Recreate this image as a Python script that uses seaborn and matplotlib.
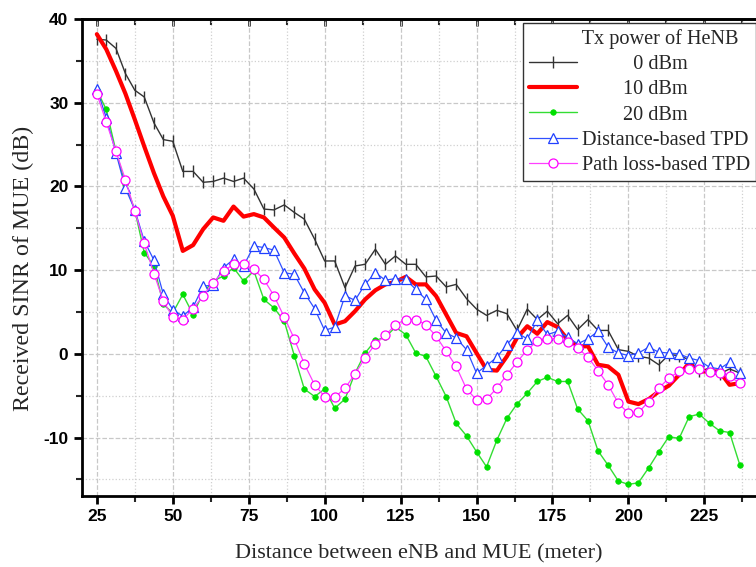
import matplotlib
matplotlib.use('Agg')
import matplotlib.pyplot as plt
from matplotlib.ticker import MultipleLocator
import seaborn as sns

distance = [25, 28.1, 31.3, 34.4, 37.5, 40.6, 43.8, 46.9, 50,
            53.3, 56.7, 60, 63.3, 66.7, 70, 73.3, 76.7, 80, 83.3, 86.7, 90, 93.3, 96.7, 100,
            103.3, 106.7, 110, 113.3, 116.7, 120, 123.3, 126.7, 130, 133.3, 136.7, 140, 143.3, 146.7, 150,
            153.3, 156.7, 160, 163.3, 166.7, 170, 173.3, 176.7, 180, 183.3, 186.7, 190, 193.3, 196.7, 200,
            203.3, 206.7, 210, 213.3, 216.7, 220, 223.3, 226.7, 230, 233.3, 236.7]

sinr_0dbm = [37.6, 37.5, 36.5, 33.5, 31.5, 30.7, 27.6, 25.6, 25.4,
             21.8, 21.8, 20.5, 20.6, 21.0, 20.6, 21.0, 19.7, 17.3, 17.2, 17.8, 16.9, 16.1, 13.7, 11.1,
             11.1, 7.9, 10.5, 10.7, 12.5, 10.7, 11.7, 10.7, 10.7, 9.2, 9.3, 8.0, 8.3, 6.6, 5.35,
             4.6, 5.2, 4.8, 2.8, 5.35, 4.1, 5.1, 3.6, 4.6, 2.9, 4.1, 2.8, 2.8, 0.5, 0.3,
             -0.3, -0.5, -1.3, -0.1, -0.2, -0.7, -2.1, -1.7, -2.4, -1.8, -2.3]

sinr_10dbm = [38.2, 36.4, 33.8, 31.1, 28.0, 24.8, 21.6, 18.8, 16.5,
              12.3, 13.0, 14.9, 16.3, 15.9, 17.6, 16.4, 16.7, 16.3, 15.1, 13.9, 12.0, 10.2, 7.7, 6.1,
              3.5, 3.9, 5.1, 6.5, 7.6, 8.3, 8.6, 9.2, 8.3, 8.3, 6.9, 4.7, 2.5, 2.1, 0.1,
              -1.9, -2.0, -0.3, 1.9, 3.3, 2.4, 3.8, 3.2, 1.7, 0.9, 0.9, -1.3, -1.5, -2.5, -5.7,
              -6.0, -5.4, -4.5, -3.8, -2.5, -1.1, -2.1, -2.1, -2.1, -3.7, -3.5]

sinr_20dbm = [31.5, 29.2, 24.2, 20.3, 17.2, 12.1, 10.5, 5.9, 4.9,
              7.1, 4.7, 7.3, 8.7, 9.3, 10.3, 8.7, 9.9, 6.5, 5.5, 3.9, -0.2, -4.2, -5.1, -4.2,
              -6.5, -5.4, -2.3, 0.1, 1.6, 2.0, 3.2, 2.3, 0.1, -0.3, -2.7, -5.1, -8.3, -9.8, -11.7,
              -13.5, -10.3, -7.7, -6.0, -4.7, -3.3, -2.8, -3.3, -3.3, -6.6, -8.0, -11.6, -13.3, -15.2, -15.6,
              -15.4, -13.6, -11.7, -9.9, -10.1, -7.5, -7.2, -8.3, -9.2, -9.4, -13.3]

sinr_dist_tpd = [31.7, 28.2, 24.0, 19.8, 17.2, 13.5, 11.2, 7.1, 5.3,
                 4.5, 5.6, 8.1, 8.2, 10.3, 11.3, 10.5, 12.9, 12.7, 12.4, 9.7, 9.5, 7.3, 5.4, 2.8,
                 3.2, 6.95, 6.4, 8.3, 9.7, 8.8, 9.0, 8.9, 7.7, 6.5, 4.0, 2.5, 1.9, 0.5, -2.3,
                 -1.4, -0.4, 1.1, 2.5, 1.8, 4.0, 2.3, 2.7, 2.0, 1.2, 1.8, 2.7, 0.8, 0.1, -0.2,
                 0.1, 0.8, 0.2, 0.1, 0.0, -0.5, -0.8, -1.6, -1.8, -1.0, -2.3]

sinr_pl_tpd = [31.1, 27.7, 24.2, 20.8, 17.1, 13.2, 9.6, 6.3, 4.4,
               4.1, 5.4, 6.95, 8.5, 9.9, 10.7, 10.7, 10.1, 8.9, 6.95, 4.4, 1.8, -1.2, -3.7, -5.1,
               -5.2, -4.1, -2.4, -0.5, 1.2, 2.2, 3.5, 4.1, 4.1, 3.5, 2.1, 0.3, -1.5, -4.2, -5.5,
               -5.4, -4.1, -2.5, -1.0, 0.5, 1.5, 1.8, 1.8, 1.4, 0.7, -0.4, -2.0, -3.7, -5.9, -7.1,
               -7.0, -5.7, -4.1, -2.9, -2.1, -1.8, -1.8, -2.2, -2.3, -2.7, -3.5]

# leading spaces centre the short labels under the title, as in the original
labels = ['          0 dBm', '        10 dBm', '        20 dBm',
          'Distance-based TPD', 'Path loss-based TPD']
legend_title = '        Tx power of HeNB'

sns.set_style('white')
plt.rcParams['axes.unicode_minus'] = False

fig = plt.figure(figsize=(7.56, 5.67), dpi=100)
ax = fig.add_axes([0.108, 0.125, 0.892, 0.8413])

sns.lineplot(x=distance, y=sinr_0dbm, ax=ax, color='#333333', linewidth=1,
             marker='|', markersize=8, markeredgecolor='#333333', markeredgewidth=1,
             label=labels[0])
sns.lineplot(x=distance, y=sinr_10dbm, ax=ax, color='#ff0000', linewidth=3,
             label=labels[1])
sns.lineplot(x=distance, y=sinr_20dbm, ax=ax, color='#33dd33', linewidth=1,
             marker='o', markersize=4, markerfacecolor='#00e000', markeredgecolor='#00e000',
             markeredgewidth=0.5, label=labels[2])
sns.lineplot(x=distance, y=sinr_dist_tpd, ax=ax, color='#3050ff', linewidth=0.9,
             marker='^', markersize=7, markerfacecolor='white', markeredgecolor='#2040ff',
             markeredgewidth=0.9, label=labels[3])
sns.lineplot(x=distance, y=sinr_pl_tpd, ax=ax, color='#ff40ff', linewidth=0.9,
             marker='o', markersize=6.5, markerfacecolor='white', markeredgecolor='#ff00ff',
             markeredgewidth=0.9, label=labels[4])

ax.set_xlim(20, 242)
ax.set_ylim(-17, 40)
ax.xaxis.set_major_locator(MultipleLocator(25))
ax.xaxis.set_minor_locator(MultipleLocator(12.5))
ax.yaxis.set_major_locator(MultipleLocator(10))
ax.yaxis.set_minor_locator(MultipleLocator(5))

ax.grid(True, which='major', color='#c8c8c8', linestyle='--', linewidth=0.9)
ax.grid(True, which='minor', color='#d0d0d0', linestyle=':', linewidth=0.9)

for side in ['left', 'bottom', 'top']:
    ax.spines[side].set_linewidth(2)
    ax.spines[side].set_color('black')
ax.spines['right'].set_visible(False)

ax.tick_params(axis='both', which='major', direction='out', length=6, width=2,
               bottom=True, left=True, colors='black')
ax.tick_params(axis='both', which='minor', direction='out', length=4, width=1.5,
               bottom=True, left=True)
for t in ax.get_xticklabels() + ax.get_yticklabels():
    t.set_fontfamily('Liberation Sans')
    t.set_fontweight('bold')
    t.set_fontsize(12.5)

top = ax.secondary_xaxis('top')
top.xaxis.set_major_locator(MultipleLocator(25))
top.xaxis.set_minor_locator(MultipleLocator(12.5))
top.tick_params(which='major', direction='in', length=5, width=2, labeltop=False)
top.tick_params(which='minor', direction='in', length=4, width=1.5)
top.spines['top'].set_linewidth(2)

ax.set_xlabel('Distance between eNB and MUE (meter)', fontfamily='Liberation Serif',
              fontsize=16, labelpad=14)
ax.set_ylabel('Received SINR of MUE (dB)', fontfamily='Liberation Serif', fontsize=17.3)
ax.yaxis.set_label_coords(-0.07, 0.478)

leg = ax.legend(loc='upper right', bbox_to_anchor=(1.0, 0.96), bbox_transform=fig.transFigure,
                title=legend_title, frameon=True, fancybox=False, edgecolor='#333333',
                framealpha=1, handlelength=2.36, handletextpad=0.25, labelspacing=0.3,
                borderpad=0.3, borderaxespad=0,
                prop={'family': 'Liberation Serif', 'size': 14.6},
                title_fontproperties={'family': 'Liberation Serif', 'size': 14.6})
leg.get_frame().set_linewidth(1)

fig.savefig('out.png', dpi=100)
